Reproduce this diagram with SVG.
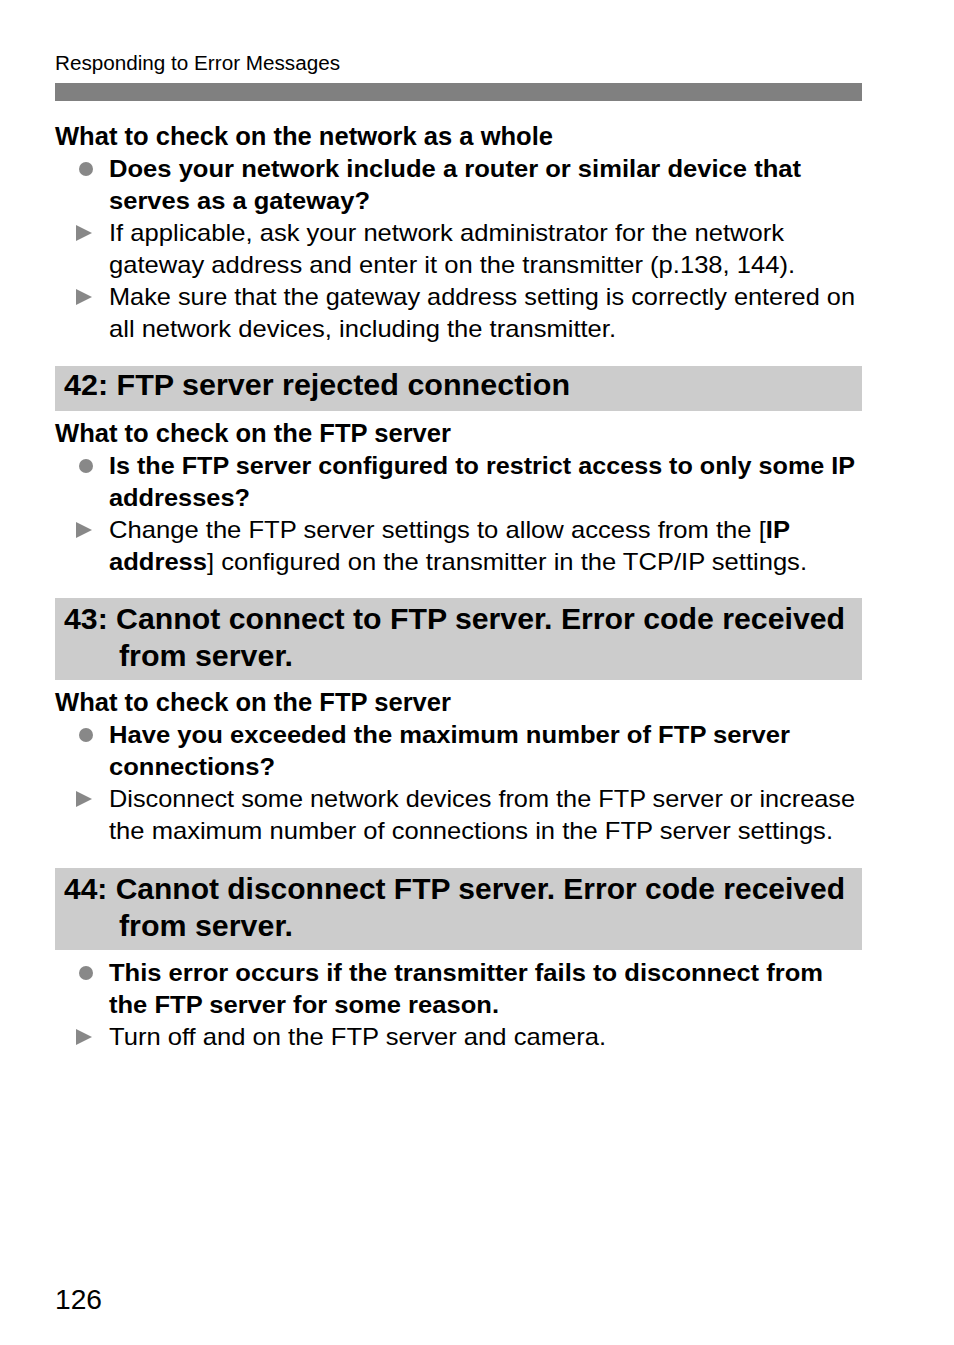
<svg xmlns="http://www.w3.org/2000/svg" width="954" height="1345" viewBox="0 0 954 1345">
<style>
text{font-family:"Liberation Sans",Arial,sans-serif;fill:#000}
.hdr{font-size:20px}
.sub{font-size:25px;font-weight:bold}
.b{font-size:24px;font-weight:bold}
.n{font-size:24px}
.t{font-size:29px;font-weight:bold}
.pg{font-size:28px}
.band{fill:#cccccc}
.dot{fill:#888888}
.tri{fill:#888888}
</style>
<defs>
<circle id="dot" r="7" class="dot"/>
<polygon id="tri" points="0,0 0,16 16,8" class="tri"/>
</defs>
<rect width="954" height="1345" fill="#ffffff"/>
<text class="hdr" x="55" y="70" textLength="285" lengthAdjust="spacingAndGlyphs">Responding to Error Messages</text>
<rect x="55" y="83" width="807" height="18" fill="#808080"/>

<g id="section-network">
<text class="sub" x="55" y="145" textLength="498" lengthAdjust="spacingAndGlyphs">What to check on the network as a whole</text>
<use href="#dot" x="86" y="169"/>
<text class="b" x="109" y="177" textLength="692" lengthAdjust="spacingAndGlyphs">Does your network include a router or similar device that</text>
<text class="b" x="109" y="209" textLength="261" lengthAdjust="spacingAndGlyphs">serves as a gateway?</text>
<use href="#tri" x="76" y="225"/>
<text class="n" x="109" y="241" textLength="675" lengthAdjust="spacingAndGlyphs">If applicable, ask your network administrator for the network</text>
<text class="n" x="109" y="273" textLength="686" lengthAdjust="spacingAndGlyphs">gateway address and enter it on the transmitter (p.138, 144).</text>
<use href="#tri" x="76" y="289"/>
<text class="n" x="109" y="305" textLength="746" lengthAdjust="spacingAndGlyphs">Make sure that the gateway address setting is correctly entered on</text>
<text class="n" x="109" y="337" textLength="507" lengthAdjust="spacingAndGlyphs">all network devices, including the transmitter.</text>
</g>

<g id="section-42">
<rect class="band" x="55" y="366" width="807" height="45"/>
<text class="t" x="64" y="395" textLength="506" lengthAdjust="spacingAndGlyphs">42: FTP server rejected connection</text>
<text class="sub" x="55" y="442" textLength="396" lengthAdjust="spacingAndGlyphs">What to check on the FTP server</text>
<use href="#dot" x="86" y="466"/>
<text class="b" x="109" y="474" textLength="746" lengthAdjust="spacingAndGlyphs">Is the FTP server configured to restrict access to only some IP</text>
<text class="b" x="109" y="506" textLength="141" lengthAdjust="spacingAndGlyphs">addresses?</text>
<use href="#tri" x="76" y="522"/>
<text class="n" x="109" y="538" textLength="681" lengthAdjust="spacingAndGlyphs">Change the FTP server settings to allow access from the [<tspan font-weight="bold">IP</tspan></text>
<text class="n" x="109" y="570" textLength="698" lengthAdjust="spacingAndGlyphs"><tspan font-weight="bold">address</tspan>] configured on the transmitter in the TCP/IP settings.</text>
</g>

<g id="section-43">
<rect class="band" x="55" y="598" width="807" height="82"/>
<text class="t" x="64" y="629" textLength="781" lengthAdjust="spacingAndGlyphs">43: Cannot connect to FTP server. Error code received</text>
<text class="t" x="119" y="666" textLength="174" lengthAdjust="spacingAndGlyphs">from server.</text>
<text class="sub" x="55" y="711" textLength="396" lengthAdjust="spacingAndGlyphs">What to check on the FTP server</text>
<use href="#dot" x="86" y="735"/>
<text class="b" x="109" y="743" textLength="681" lengthAdjust="spacingAndGlyphs">Have you exceeded the maximum number of FTP server</text>
<text class="b" x="109" y="775" textLength="166" lengthAdjust="spacingAndGlyphs">connections?</text>
<use href="#tri" x="76" y="791"/>
<text class="n" x="109" y="807" textLength="746" lengthAdjust="spacingAndGlyphs">Disconnect some network devices from the FTP server or increase</text>
<text class="n" x="109" y="839" textLength="724" lengthAdjust="spacingAndGlyphs">the maximum number of connections in the FTP server settings.</text>
</g>

<g id="section-44">
<rect class="band" x="55" y="868" width="807" height="82"/>
<text class="t" x="64" y="899" textLength="781" lengthAdjust="spacingAndGlyphs">44: Cannot disconnect FTP server. Error code received</text>
<text class="t" x="119" y="936" textLength="174" lengthAdjust="spacingAndGlyphs">from server.</text>
<use href="#dot" x="86" y="973"/>
<text class="b" x="109" y="981" textLength="714" lengthAdjust="spacingAndGlyphs">This error occurs if the transmitter fails to disconnect from</text>
<text class="b" x="109" y="1013" textLength="390" lengthAdjust="spacingAndGlyphs">the FTP server for some reason.</text>
<use href="#tri" x="76" y="1029"/>
<text class="n" x="109" y="1045" textLength="497" lengthAdjust="spacingAndGlyphs">Turn off and on the FTP server and camera.</text>
</g>

<text class="pg" x="55" y="1309" textLength="47" lengthAdjust="spacingAndGlyphs">126</text>
</svg>
